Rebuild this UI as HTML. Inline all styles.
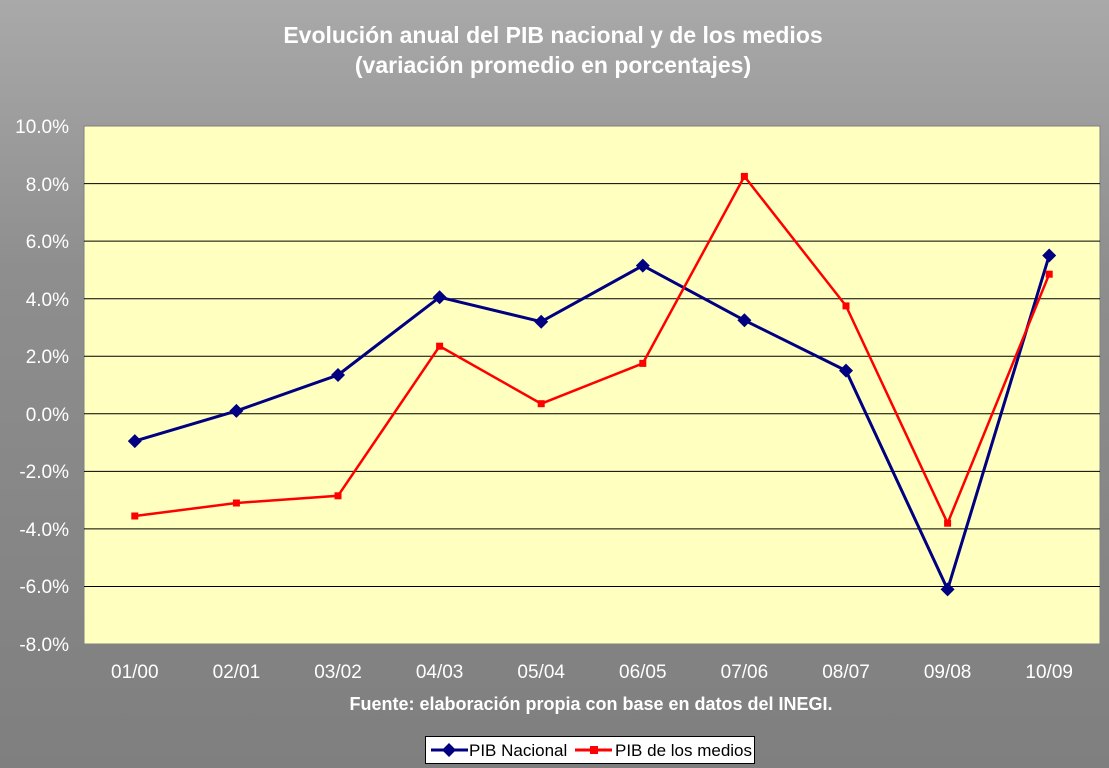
<!DOCTYPE html>
<html><head><meta charset="utf-8"><style>
html,body{margin:0;padding:0;width:1109px;height:768px;overflow:hidden}
</style></head><body>
<svg width="1109" height="768" xmlns="http://www.w3.org/2000/svg" font-family="Liberation Sans, Arial, sans-serif">
<defs><linearGradient id="bg" x1="0" y1="0" x2="0" y2="1">
<stop offset="0" stop-color="#a9a9a9"/><stop offset="0.35" stop-color="#8e8e8e"/><stop offset="1" stop-color="#7f7f7f"/></linearGradient></defs>
<rect width="1109" height="768" fill="url(#bg)"/>
<text x="553" y="43" text-anchor="middle" fill="#fff" font-size="23" font-weight="bold">Evolución anual del PIB nacional y de los medios</text>
<text x="553" y="73" text-anchor="middle" fill="#fff" font-size="23" font-weight="bold">(variación promedio en porcentajes)</text>
<rect x="84" y="126" width="1016" height="518" fill="#ffffc0" stroke="#808080"/>
<g stroke="#000" stroke-width="1">
<line x1="84" x2="1100" y1="183.6" y2="183.6"/><line x1="84" x2="1100" y1="241.1" y2="241.1"/><line x1="84" x2="1100" y1="298.7" y2="298.7"/><line x1="84" x2="1100" y1="356.2" y2="356.2"/><line x1="84" x2="1100" y1="413.8" y2="413.8"/><line x1="84" x2="1100" y1="471.4" y2="471.4"/><line x1="84" x2="1100" y1="528.9" y2="528.9"/><line x1="84" x2="1100" y1="586.5" y2="586.5"/>
</g>
<g fill="#fff" font-size="19" text-anchor="end">
<text x="69" y="133">10.0%</text><text x="69" y="191">8.0%</text><text x="69" y="248">6.0%</text><text x="69" y="306">4.0%</text><text x="69" y="363">2.0%</text><text x="69" y="421">0.0%</text><text x="69" y="478">-2.0%</text><text x="69" y="536">-4.0%</text><text x="69" y="593">-6.0%</text><text x="69" y="651">-8.0%</text>
</g>
<g fill="#fff" font-size="19" text-anchor="middle">
<text x="134.8" y="678">01/00</text><text x="236.4" y="678">02/01</text><text x="338" y="678">03/02</text><text x="439.6" y="678">04/03</text><text x="541.2" y="678">05/04</text><text x="642.8" y="678">06/05</text><text x="744.4" y="678">07/06</text><text x="846" y="678">08/07</text><text x="947.6" y="678">09/08</text><text x="1049.2" y="678">10/09</text>
</g>
<text x="591" y="710" text-anchor="middle" fill="#fff" font-size="18" font-weight="bold">Fuente: elaboración propia con base en datos del INEGI.</text>
<polyline fill="none" stroke="#000080" stroke-width="3" points="134.8,441.1 236.4,410.9 338,375 439.6,297.2 541.2,321.7 642.8,265.6 744.4,320.3 846,370.6 947.6,589.4 1049.2,255.5"/>
<polyline fill="none" stroke="#ff0000" stroke-width="2.5" points="134.8,516 236.4,503 338,495.8 439.6,346.2 541.2,403.7 642.8,363.4 744.4,176.4 846,305.9 947.6,523.2 1049.2,274.2"/>
<g fill="#000080">
<path d="M134.8 434.1l7 7-7 7-7-7z"/><path d="M236.4 403.9l7 7-7 7-7-7z"/><path d="M338 368l7 7-7 7-7-7z"/><path d="M439.6 290.2l7 7-7 7-7-7z"/><path d="M541.2 314.7l7 7-7 7-7-7z"/><path d="M642.8 258.6l7 7-7 7-7-7z"/><path d="M744.4 313.3l7 7-7 7-7-7z"/><path d="M846 363.6l7 7-7 7-7-7z"/><path d="M947.6 582.4l7 7-7 7-7-7z"/><path d="M1049.2 248.5l7 7-7 7-7-7z"/>
</g>
<g fill="#ff0000">
<rect x="131.3" y="512.5" width="7" height="7"/><rect x="232.9" y="499.5" width="7" height="7"/><rect x="334.5" y="492.3" width="7" height="7"/><rect x="436.1" y="342.7" width="7" height="7"/><rect x="537.7" y="400.2" width="7" height="7"/><rect x="639.3" y="359.9" width="7" height="7"/><rect x="740.9" y="172.9" width="7" height="7"/><rect x="842.5" y="302.4" width="7" height="7"/><rect x="944.1" y="519.7" width="7" height="7"/><rect x="1045.7" y="270.7" width="7" height="7"/>
</g>
<rect x="425.5" y="736.5" width="329" height="27" fill="#fff" stroke="#000"/>
<line x1="431" x2="468" y1="750" y2="750" stroke="#000080" stroke-width="3"/>
<path d="M449 743l7 7-7 7-7-7z" fill="#000080"/>
<text x="469" y="756" font-size="17" fill="#000">PIB Nacional</text>
<line x1="575" x2="612" y1="750" y2="750" stroke="#f00" stroke-width="3"/>
<rect x="590" y="746" width="8" height="8" fill="#f00"/>
<text x="615" y="756" font-size="17" fill="#000">PIB de los medios</text>
</svg>
</body></html>
